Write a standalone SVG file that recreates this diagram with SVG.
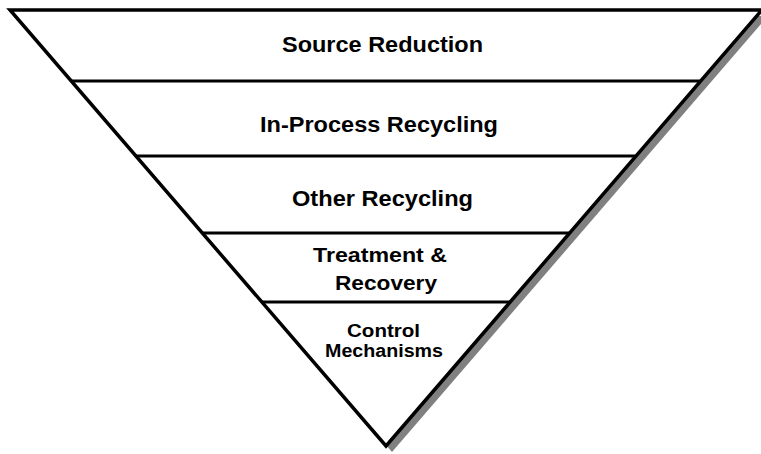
<svg xmlns="http://www.w3.org/2000/svg" width="761" height="454" viewBox="0 0 761 454">
<style>
.t{font-family:"Liberation Sans",Arial,sans-serif;font-weight:bold;fill:#000;text-anchor:middle}
.band{stroke:#000;stroke-width:3.2;fill:none}
</style>
<rect width="761" height="454" fill="#fff"/>
<g id="pyramid">
<polygon points="16,16 768,16 392,452" fill="#808080"/>
<polygon points="10,10 762,10 386,446" fill="#fff" stroke="#000" stroke-width="3.5"/>
</g>
<g id="connectors">
<line class="band" x1="71" y1="81" x2="701" y2="81"/>
<line class="band" x1="136" y1="156" x2="636" y2="156"/>
<line class="band" x1="202" y1="233" x2="570" y2="233"/>
<line class="band" x1="262" y1="302" x2="510" y2="302"/>
</g>
<g id="source-reduction"><text class="t" x="382.5" y="52" font-size="22" textLength="201" lengthAdjust="spacingAndGlyphs">Source Reduction</text></g>
<g id="in-process-recycling"><text class="t" x="379" y="132" font-size="22" textLength="238" lengthAdjust="spacingAndGlyphs">In-Process Recycling</text></g>
<g id="other-recycling"><text class="t" x="382.5" y="206" font-size="22" textLength="181" lengthAdjust="spacingAndGlyphs">Other Recycling</text></g>
<g id="treatment-recovery">
<text class="t" x="380" y="262" font-size="20" textLength="134" lengthAdjust="spacingAndGlyphs">Treatment &amp;</text>
<text class="t" x="386" y="290" font-size="20" textLength="102" lengthAdjust="spacingAndGlyphs">Recovery</text>
</g>
<g id="control-mechanisms">
<text class="t" x="383.5" y="337" font-size="18" textLength="73" lengthAdjust="spacingAndGlyphs">Control</text>
<text class="t" x="384" y="357" font-size="18" textLength="118" lengthAdjust="spacingAndGlyphs">Mechanisms</text>
</g>
</svg>
